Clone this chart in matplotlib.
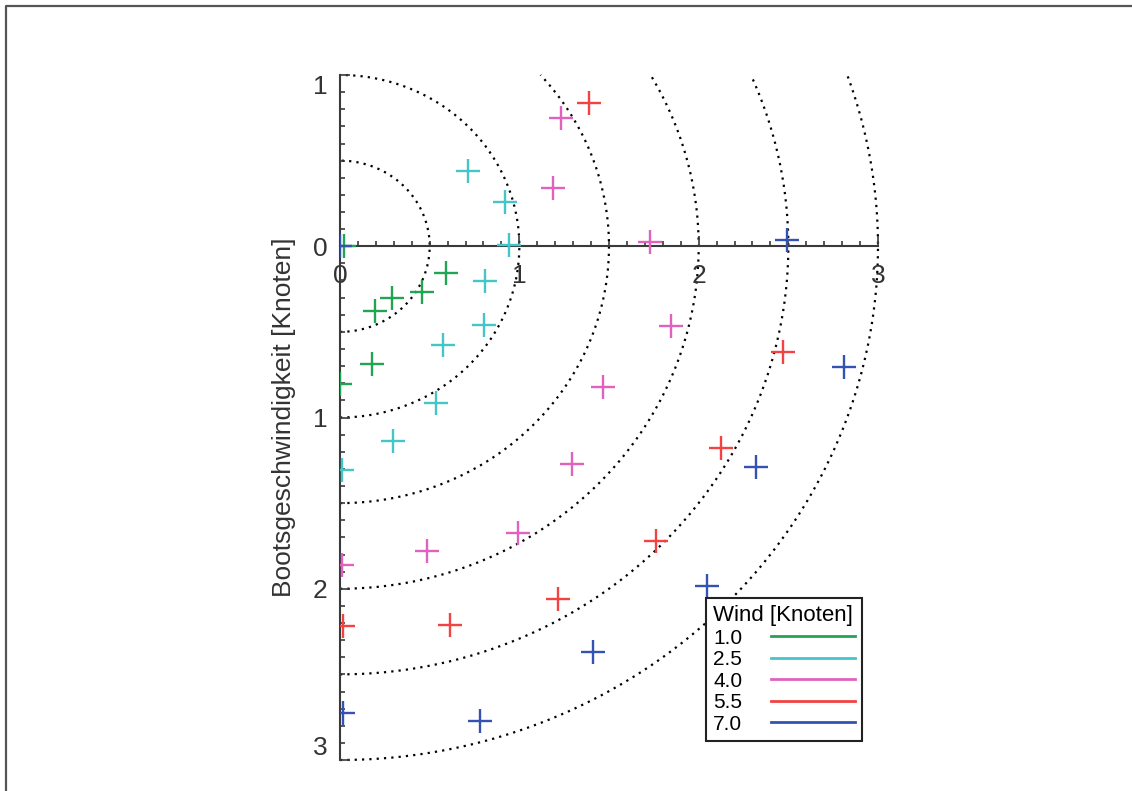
import numpy as np
import matplotlib.pyplot as plt
from matplotlib.lines import Line2D
from matplotlib.ticker import MultipleLocator, FuncFormatter

plt.rcParams['font.family'] = ['Liberation Sans', 'DejaVu Sans']

# wind speeds [knots] and their colours
wind = ['1.0', '2.5', '4.0', '5.5', '7.0']
colors = ['#22a455', '#44c6c8', '#e062bc', '#f24242', '#3452b2']

# boat speed components [knots]: x across the wind, y along the wind
x_w10 = [0.02, 0.59, 0.46, 0.29, 0.195, 0.177, 0.0]
y_w10 = [0.0, -0.156, -0.27, -0.30, -0.376, -0.688, -0.805]

x_w25 = [0.716, 0.92, 0.94, 0.81, 0.805, 0.573, 0.535, 0.296, 0.01]
y_w25 = [0.44, 0.26, 0.01, -0.205, -0.458, -0.575, -0.916, -1.14, -1.306]

x_w40 = [1.231, 1.186, 1.729, 1.846, 1.467, 1.294, 0.994, 0.487, 0.01]
y_w40 = [0.747, 0.341, 0.023, -0.468, -0.819, -1.269, -1.677, -1.78, -1.861]

x_w55 = [1.39, 2.473, 2.123, 1.762, 1.216, 0.613, 0.015]
y_w55 = [0.838, -0.62, -1.18, -1.719, -2.058, -2.212, -2.218]

x_w70 = [0.0, 2.495, 2.813, 2.318, 2.045, 1.413, 0.781, 0.018]
y_w70 = [0.0, 0.039, -0.706, -1.291, -1.982, -2.372, -2.772, -2.723]

xs = [x_w10, x_w25, x_w40, x_w55, x_w70]
ys = [y_w10, y_w25, y_w40, y_w55, y_w70]

# reference circles [knots]
radii = [0.5, 1.0, 1.5, 2.0, 2.5, 3.0]

fig = plt.figure(figsize=(11.32, 7.91), dpi=100)
ax = fig.add_axes([340 / 1132, 31 / 791, 538 / 1132, 685 / 791])
ax.set_xlim(0, 3)
ax.set_ylim(-3, 1)

# dotted circles, right half, cut at the top of the plot
for r in radii:
    top = np.pi / 2 if r <= 1 else np.arcsin(1 / r)
    t = np.linspace(-np.pi / 2, top, 400)
    ax.plot(r * np.cos(t), r * np.sin(t), color='black', lw=1.6,
            linestyle=(0, (1, 2.3)), clip_on=False, zorder=1)

for x, y, c in zip(xs, ys, colors):
    ax.plot(x, y, linestyle='none', marker='+', markersize=17,
            markeredgewidth=1.7, color=c, zorder=3)

# axes styling
for s in ['top', 'right']:
    ax.spines[s].set_visible(False)
ax.spines['bottom'].set_position(('data', 0))
for s in ['left', 'bottom']:
    ax.spines[s].set_color('#3a3a3a')
    ax.spines[s].set_linewidth(1.5)

ax.xaxis.set_major_locator(MultipleLocator(1))
ax.xaxis.set_minor_locator(MultipleLocator(0.1))
ax.yaxis.set_major_locator(MultipleLocator(1))
ax.yaxis.set_minor_locator(MultipleLocator(0.1))
ax.yaxis.set_major_formatter(FuncFormatter(lambda v, p: f'{abs(v):g}'))

ax.tick_params(which='both', direction='in', color='#3a3a3a', width=1.2,
               labelsize=19, labelcolor='#333333')
ax.tick_params(which='major', length=7)
ax.tick_params(which='minor', length=3.6)
ax.tick_params(axis='x', pad=13)
ax.tick_params(axis='y', pad=9)

ax.set_ylabel('Bootsgeschwindigkeit [Knoten]', fontsize=19, color='#333333',
              labelpad=12)

handles = [Line2D([], [], color=c, lw=2) for c in colors]
leg = ax.legend(handles, wind, title='Wind [Knoten]', loc='upper left',
                bbox_to_anchor=(0.680, 0.2365), borderaxespad=0,
                fontsize=15, title_fontsize=16, markerfirst=False,
                handlelength=4.0, labelspacing=0.12, handletextpad=1.4,
                borderpad=0.35, alignment='left', fancybox=False,
                framealpha=1)
leg.get_frame().set_edgecolor('#222222')
leg.get_frame().set_linewidth(1.5)

# outermost y labels sit inside the axis range
fig.canvas.draw()
for tick in ax.yaxis.get_major_ticks():
    if np.isclose(tick.get_loc(), 1):
        tick.label1.set_va('top')
    elif np.isclose(tick.get_loc(), -3):
        tick.label1.set_va('bottom')

# page frame (top and left edges)
fig.add_artist(Line2D([6 / 1132, 6 / 1132, 1], [0, 1 - 6 / 791, 1 - 6 / 791],
                      transform=fig.transFigure, color='#555555', lw=1.6))

fig.savefig('out.png', dpi=100)
